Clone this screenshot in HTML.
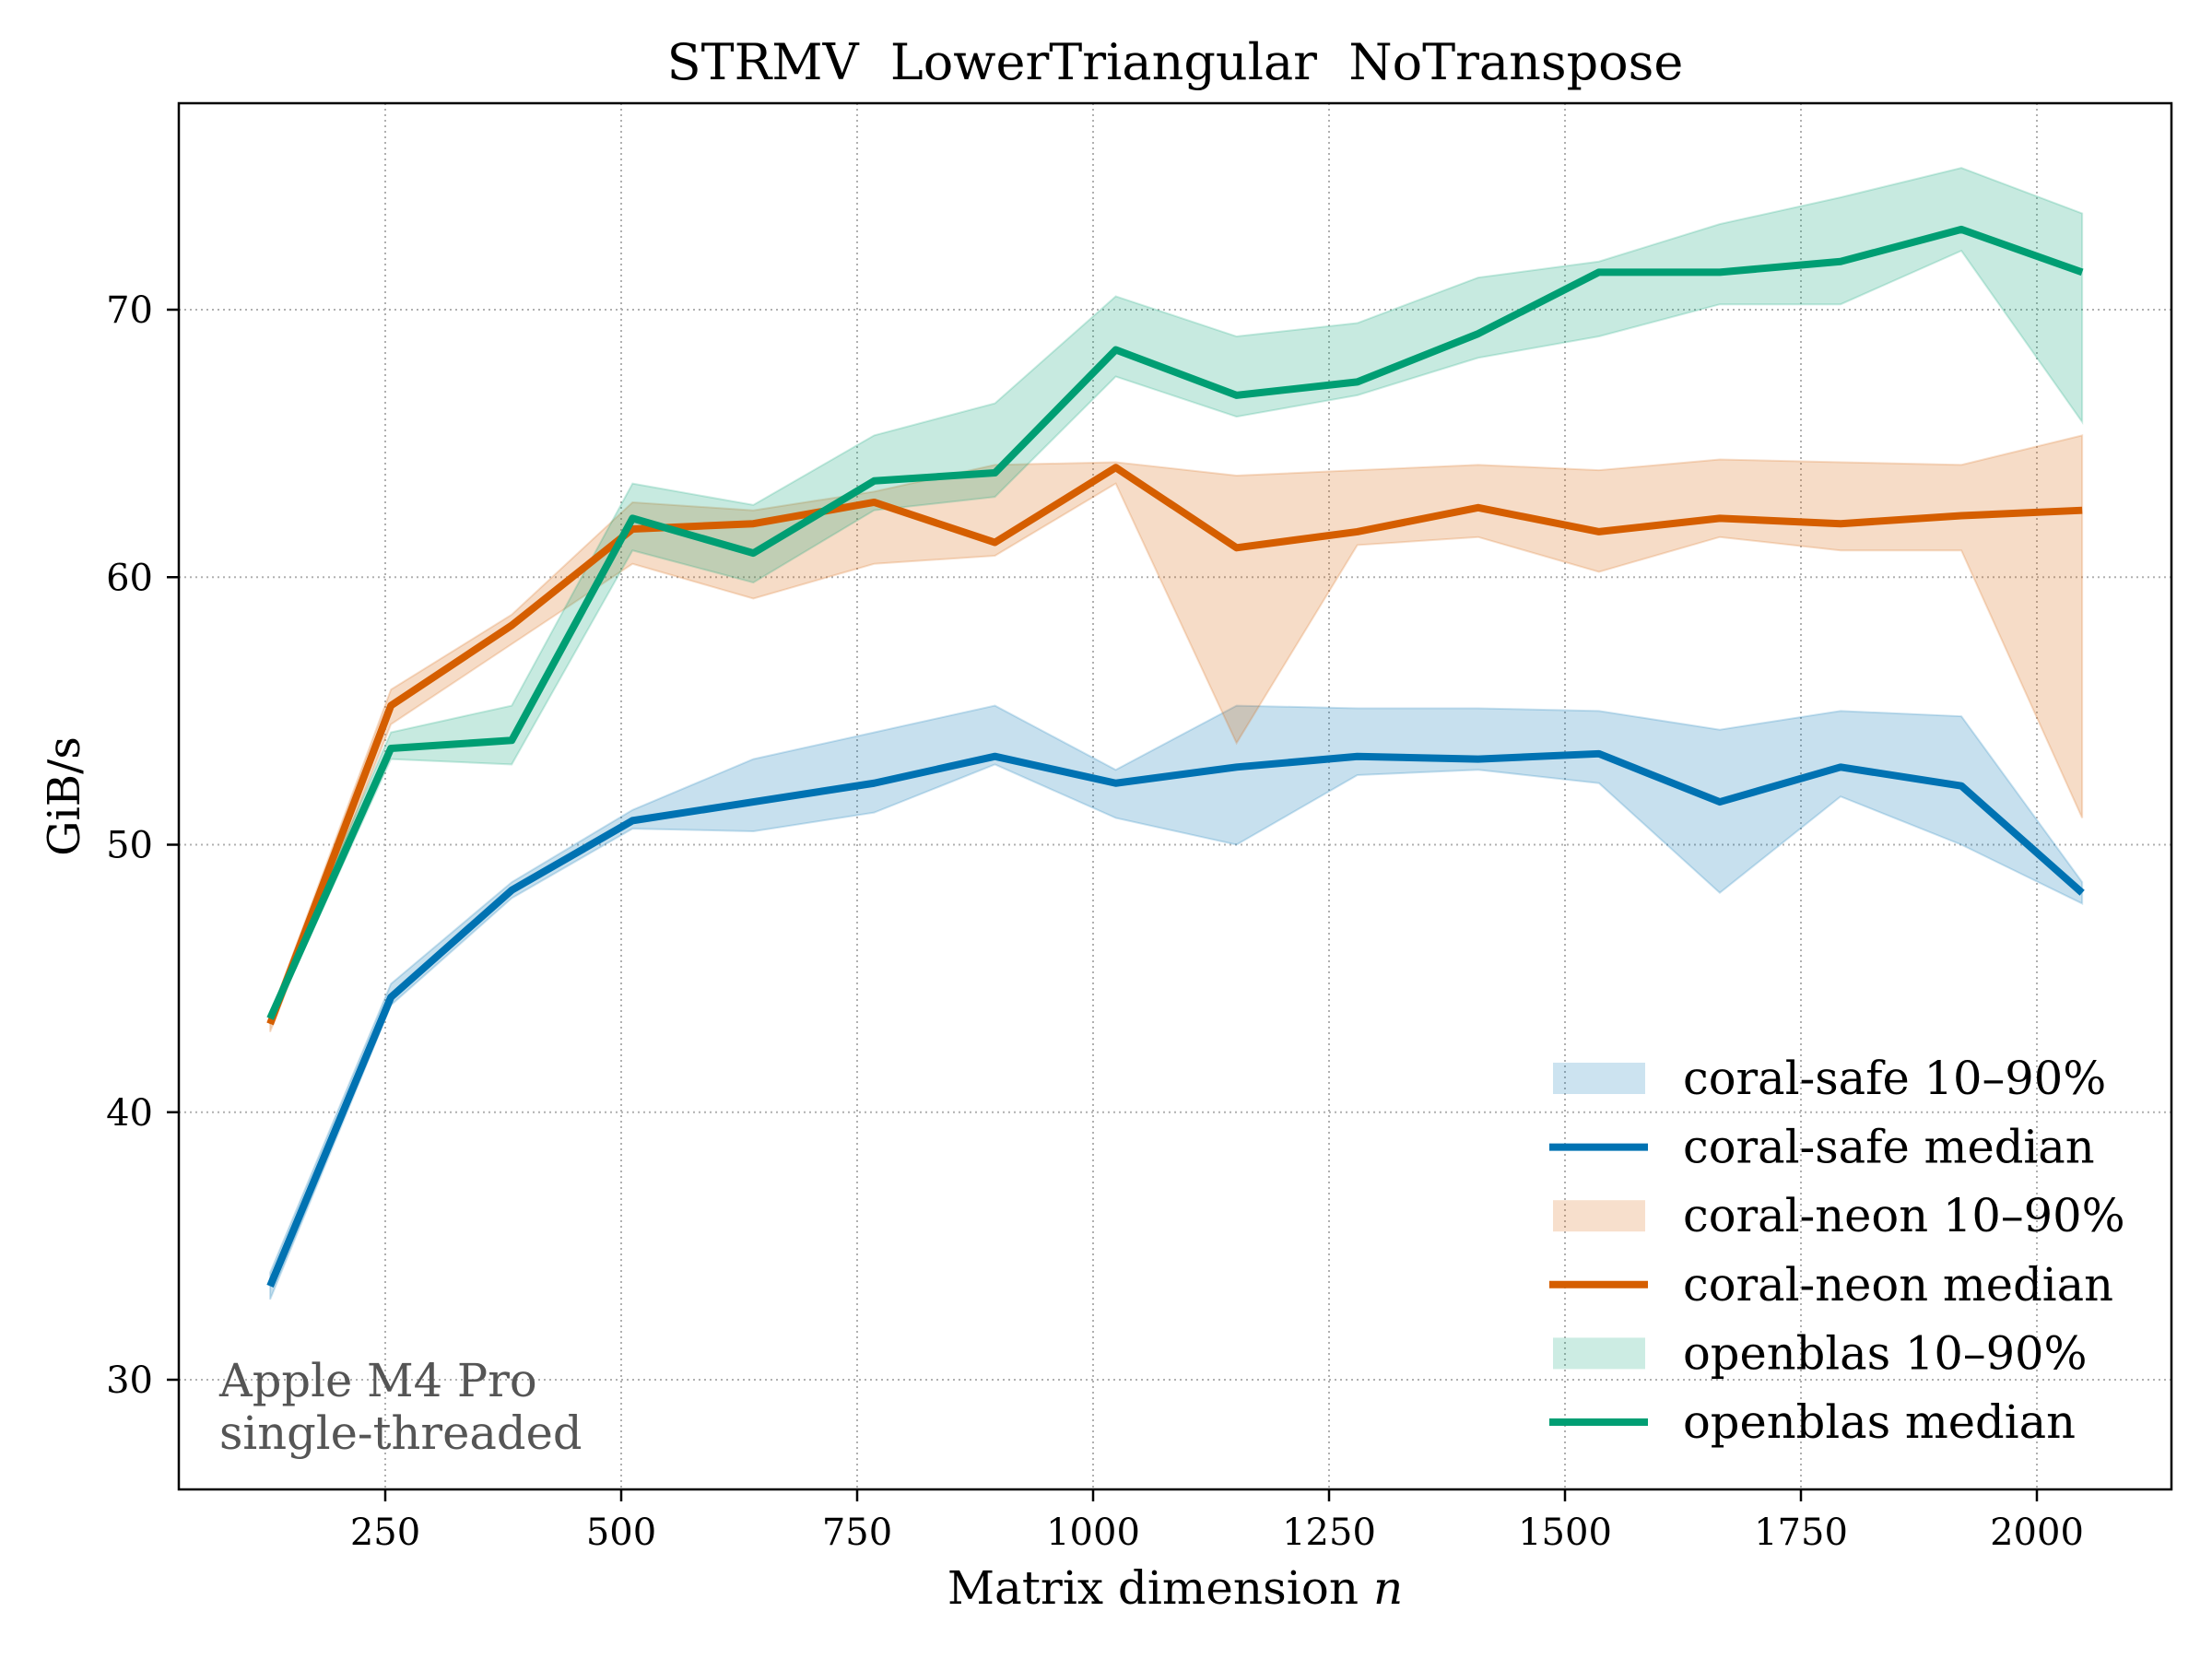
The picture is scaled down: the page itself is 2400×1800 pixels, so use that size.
<!DOCTYPE html>
<html><head><meta charset="utf-8"><style>
html,body{margin:0;padding:0;background:#fff;}
svg{display:block;font-family:"DejaVu Serif","Liberation Serif",serif;}
</style></head><body>
<svg id="chart" width="2400" height="1800" viewBox="0 0 2400 1800">
<rect width="2400" height="1800" fill="#fff"/>
<g id="grid"></g>
<g id="bands"></g>
<g id="lines"></g>
<rect x="194" y="112" width="2162" height="1504" fill="none" stroke="#000" stroke-width="2.5"/>
<g id="ticks"></g>
<text x="1275" y="86" font-size="54" text-anchor="middle" style="white-space:pre" xml:space="preserve">STRMV  LowerTriangular  NoTranspose</text>
<text x="1275" y="1740" font-size="50" text-anchor="middle">Matrix dimension <tspan font-style="italic">n</tspan></text>
<text x="0" y="0" font-size="48" text-anchor="middle" transform="translate(86,864) rotate(-90)">GiB/s</text>
<g fill="#555" font-size="49.5">
<text x="238" y="1515">Apple M4 Pro</text>
<text x="238" y="1572">single-threaded</text>
</g>
<g id="legend" font-size="49.5"></g>
</svg>
<script>
const nValues = [128,256,384,512,640,768,896,1024,1152,1280,1408,1536,1664,1792,1920,2048];
const safeMedian = [33.5,44.3,48.3,50.9,51.6,52.3,53.3,52.3,52.9,53.3,53.2,53.4,51.6,52.9,52.2,48.2];
const safeLow  = [33.0,44.0,48.0,50.6,50.5,51.2,53.0,51.0,50.0,52.6,52.8,52.3,48.2,51.8,50.0,47.8];
const safeHigh = [34.0,44.8,48.6,51.3,53.2,54.2,55.2,52.8,55.2,55.1,55.1,55.0,54.3,55.0,54.8,48.6];
const neonMedian = [43.3,55.2,58.2,61.8,62.0,62.8,61.3,64.1,61.1,61.7,62.6,61.7,62.2,62.0,62.3,62.5];
const neonLow  = [43.0,54.5,57.5,60.5,59.2,60.5,60.8,63.5,53.8,61.2,61.5,60.2,61.5,61.0,61.0,51.0];
const neonHigh = [43.6,55.8,58.6,62.8,62.5,63.2,64.2,64.3,63.8,64.0,64.2,64.0,64.4,64.3,64.2,65.3];
const oblasMedian = [43.5,53.6,53.9,62.2,60.9,63.6,63.9,68.5,66.8,67.3,69.1,71.4,71.4,71.8,73.0,71.4];
const oblasLow  = [43.3,53.2,53.0,61.0,59.8,62.5,63.0,67.5,66.0,66.8,68.2,69.0,70.2,70.2,72.2,65.8];
const oblasHigh = [43.7,54.2,55.2,63.5,62.7,65.3,66.5,70.5,69.0,69.5,71.2,71.8,73.2,74.2,75.3,73.6];
const xTicks = [250,500,750,1000,1250,1500,1750,2000];
const yTicks = [30,40,50,60,70];
const legendLabels = ["coral-safe 10–90%","coral-safe median","coral-neon 10–90%","coral-neon median","openblas 10–90%","openblas median"];

const NS="http://www.w3.org/2000/svg";
function X(n){return 418+(n-250)*(256/250);}
function Y(v){return 336+(70-v)*29.025;}
function mk(tag,attrs,parent){const e=document.createElementNS(NS,tag);for(const k in attrs)e.setAttribute(k,attrs[k]);parent.appendChild(e);return e;}
const grid=document.getElementById('grid'),ticks=document.getElementById('ticks');
xTicks.forEach(t=>{
  const g=mk('line',{x1:X(t),x2:X(t),y1:112,y2:1616,stroke:'#b0b0b0','stroke-width':2,'stroke-dasharray':'2,4'},grid);
  
  
  const tk=mk('line',{x1:X(t),x2:X(t),y1:1616,y2:1629,stroke:'#000','stroke-width':2.5},ticks);
  
  
  const tl=mk('text',{x:X(t),y:1676,'font-size':40,'text-anchor':'middle'},ticks);
  tl.textContent=t;
  
  
});
yTicks.forEach(t=>{
  const g=mk('line',{x1:194,x2:2356,y1:Y(t),y2:Y(t),stroke:'#b0b0b0','stroke-width':2,'stroke-dasharray':'2,4'},grid);
  
  
  const tk=mk('line',{x1:181,x2:194,y1:Y(t),y2:Y(t),stroke:'#000','stroke-width':2.5},ticks);
  
  
  const tl=mk('text',{x:166,y:Y(t)+14,'font-size':40,'text-anchor':'end'},ticks);
  tl.textContent=t;
  
  
});
const series=[
  {name:'coral-safe',color:'#0072B2',lo:safeLow,hi:safeHigh,med:safeMedian},
  {name:'coral-neon',color:'#D55E00',lo:neonLow,hi:neonHigh,med:neonMedian},
  {name:'openblas',color:'#009E73',lo:oblasLow,hi:oblasHigh,med:oblasMedian}];
const bands=document.getElementById('bands'),lines=document.getElementById('lines'),legend=document.getElementById('legend');
series.forEach((s,i)=>{
  let pts=nValues.map((n,j)=>X(n)+','+Y(s.hi[j]));
  pts=pts.concat(nValues.map((n,j)=>X(n)+','+Y(s.lo[j])).reverse());
  const b=mk('polygon',{points:pts.join(' '),fill:s.color,'fill-opacity':0.22,stroke:s.color,'stroke-opacity':0.2,'stroke-width':2},bands);
  
  
  const l=mk('polyline',{points:nValues.map((n,j)=>X(n)+','+Y(s.med[j])).join(' '),fill:'none',stroke:s.color,'stroke-width':8,'stroke-linejoin':'round'},lines);
  
  
  const yb=1170+i*2*74.6, ym=yb+74.6;
  const p=mk('rect',{x:1685,y:yb-17,width:100,height:34,fill:s.color,'fill-opacity':0.2},legend);
  
  
  const t1=mk('text',{x:1826,y:yb+17},legend);
  t1.textContent=legendLabels[i*2];
  
  
  const ll=mk('line',{x1:1681,x2:1788,y1:ym,y2:ym,stroke:s.color,'stroke-width':8},legend);
  
  
  const t2=mk('text',{x:1826,y:ym+17},legend);
  t2.textContent=legendLabels[i*2+1];
  
  
});
</script>
</body></html>
